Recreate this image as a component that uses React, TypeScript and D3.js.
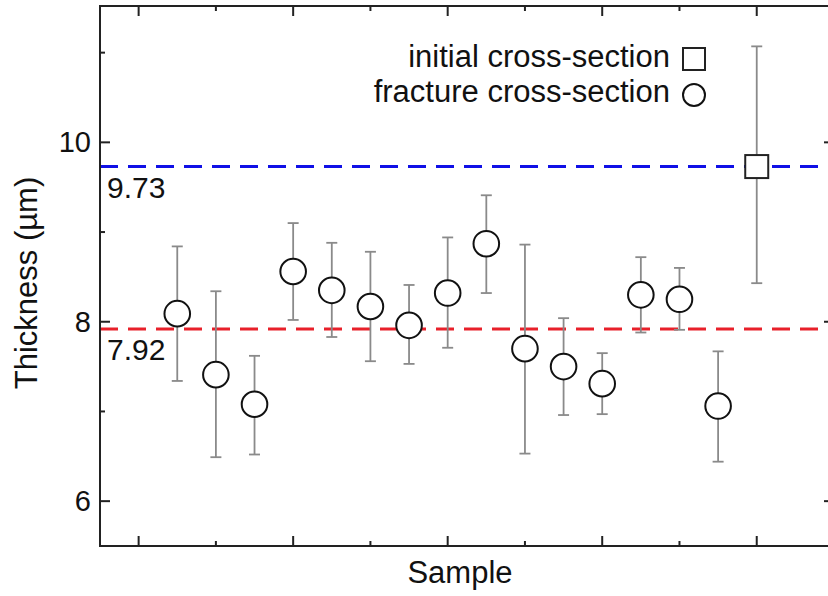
import React from "react";
import * as d3 from "d3";

// Fracture cross-section thickness per sample (µm) with error bar limits
const sampleIds = [1, 2, 3, 4, 5, 6, 7, 8, 9, 10, 11, 12, 13, 14, 15];
const fractureMean = [8.09, 7.41, 7.08, 8.56, 8.35, 8.17, 7.96, 8.32, 8.87, 7.70, 7.50, 7.31, 8.30, 8.25, 7.06];
const fractureHigh = [8.84, 8.34, 7.62, 9.10, 8.88, 8.78, 8.41, 8.94, 9.41, 8.86, 8.04, 7.65, 8.72, 8.60, 7.67];
const fractureLow = [7.34, 6.49, 6.52, 8.02, 7.83, 7.56, 7.53, 7.71, 8.32, 6.53, 6.96, 6.97, 7.88, 7.91, 6.44];

// Initial cross-section measurement
const initialId = 16;
const initialMean = 9.73;
const initialHigh = 11.07;
const initialLow = 8.43;

// Reference levels
const initialLevel = 9.73;
const fractureLevel = 7.92;

const yMajorTicks = [6, 8, 10];
const yMinorTicks = [7, 9, 11];
const xMajorTicks = [0, 4, 8, 12, 16];
const xMinorTicks = [2, 6, 10, 14];

const W = 828;
const H = 596;
const left = 100;
const right = 834;
const top = 6;
const bottom = 546;

const FONT = "'Liberation Sans', Arial, Helvetica, sans-serif";

export default function App() {
  const x = d3.scaleLinear().domain([-1, 18]).range([left, right]);
  const y = d3.scaleLinear().domain([5.5, 11.52]).range([bottom, top]);

  const majorLen = 10;
  const minorLen = 5;
  const capHalf = 5.5;
  const barColor = "#8a8a8a";

  return (
    <svg
      width={W}
      height={H}
      style={{ position: "absolute", left: 0, top: 0, background: "#fff" }}
      fontFamily={FONT}
    >
      <rect x={0} y={0} width={W} height={H} fill="#fff" />

      {/* reference lines */}
      <line x1={left} x2={right} y1={y(initialLevel)} y2={y(initialLevel)}
        stroke="#1010e6" strokeWidth={3} strokeDasharray="18,10" />
      <line x1={left} x2={right} y1={y(fractureLevel)} y2={y(fractureLevel)}
        stroke="#e8202a" strokeWidth={3} strokeDasharray="18,10" />
      <text x={107} y={y(initialLevel) + 31} fontSize={30} fill="#111">{initialLevel.toFixed(2)}</text>
      <text x={107} y={y(fractureLevel) + 31} fontSize={30} fill="#111">{fractureLevel.toFixed(2)}</text>

      {/* error bars */}
      {sampleIds.map((s, i) => (
        <g key={"eb" + s} stroke={barColor} strokeWidth={1.8}>
          <line x1={x(s)} x2={x(s)} y1={y(fractureHigh[i])} y2={y(fractureLow[i])} />
          <line x1={x(s) - capHalf} x2={x(s) + capHalf} y1={y(fractureHigh[i])} y2={y(fractureHigh[i])} />
          <line x1={x(s) - capHalf} x2={x(s) + capHalf} y1={y(fractureLow[i])} y2={y(fractureLow[i])} />
        </g>
      ))}
      <g stroke={barColor} strokeWidth={1.8}>
        <line x1={x(initialId)} x2={x(initialId)} y1={y(initialHigh)} y2={y(initialLow)} />
        <line x1={x(initialId) - capHalf} x2={x(initialId) + capHalf} y1={y(initialHigh)} y2={y(initialHigh)} />
        <line x1={x(initialId) - capHalf} x2={x(initialId) + capHalf} y1={y(initialLow)} y2={y(initialLow)} />
      </g>

      {/* markers */}
      {sampleIds.map((s, i) => (
        <circle key={"pt" + s} cx={x(s)} cy={y(fractureMean[i])} r={12.8}
          fill="#fff" stroke="#111" strokeWidth={2} />
      ))}
      <rect x={x(initialId) - 11.5} y={y(initialMean) - 11.5} width={23} height={23}
        fill="#fff" stroke="#222" strokeWidth={2} />

      {/* frame */}
      <rect x={left} y={top} width={right - left} height={bottom - top}
        fill="none" stroke="#222" strokeWidth={2} />

      {/* y ticks, left and right */}
      {yMajorTicks.map((t) => (
        <g key={"ym" + t} stroke="#222" strokeWidth={2}>
          <line x1={left} x2={left + majorLen} y1={y(t)} y2={y(t)} />
          <line x1={right} x2={right - majorLen} y1={y(t)} y2={y(t)} />
        </g>
      ))}
      {yMinorTicks.map((t) => (
        <g key={"yn" + t} stroke="#222" strokeWidth={2}>
          <line x1={left} x2={left + minorLen} y1={y(t)} y2={y(t)} />
          <line x1={right} x2={right - minorLen} y1={y(t)} y2={y(t)} />
        </g>
      ))}
      {yMajorTicks.map((t) => (
        <text key={"yl" + t} x={left - 9} y={y(t) + 10} fontSize={29} textAnchor="end" fill="#111">
          {t}
        </text>
      ))}

      {/* x ticks, bottom and top */}
      {xMajorTicks.map((t) => (
        <g key={"xm" + t} stroke="#222" strokeWidth={2}>
          <line x1={x(t)} x2={x(t)} y1={bottom} y2={bottom - majorLen} />
          <line x1={x(t)} x2={x(t)} y1={top} y2={top + majorLen} />
        </g>
      ))}
      {xMinorTicks.map((t) => (
        <g key={"xn" + t} stroke="#222" strokeWidth={2}>
          <line x1={x(t)} x2={x(t)} y1={bottom} y2={bottom - minorLen} />
          <line x1={x(t)} x2={x(t)} y1={top} y2={top + minorLen} />
        </g>
      ))}

      {/* axis titles */}
      <text x={460} y={583} fontSize={31} textAnchor="middle" fill="#111">Sample</text>
      <text transform={`translate(37, 283) rotate(-90)`} fontSize={31} textAnchor="middle" fill="#111">
        Thickness (µm)
      </text>

      {/* legend */}
      <text x={670} y={67} fontSize={31} textAnchor="end" fill="#111">initial cross-section</text>
      <rect x={683} y={48} width={22} height={22} fill="#fff" stroke="#222" strokeWidth={2} />
      <text x={670} y={102} fontSize={31} textAnchor="end" fill="#111">fracture cross-section</text>
      <circle cx={694} cy={95} r={11} fill="#fff" stroke="#111" strokeWidth={2} />
    </svg>
  );
}
